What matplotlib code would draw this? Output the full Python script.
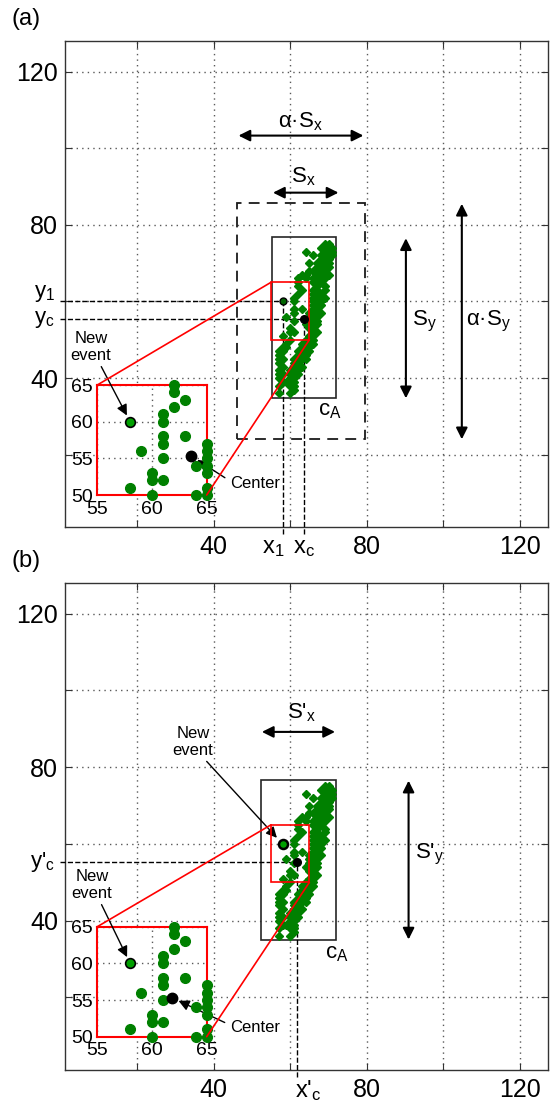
import matplotlib
matplotlib.use('Agg')
import matplotlib.pyplot as plt
from matplotlib.patches import Rectangle, ConnectionPatch

plt.rcParams['font.family'] = ['Liberation Sans', 'DejaVu Sans']
plt.rcParams['mathtext.fontset'] = 'custom'
plt.rcParams['mathtext.rm'] = 'Liberation Sans'
plt.rcParams['mathtext.default'] = 'regular'

# ---------------- data ----------------
cluster_x = [
    # inset region (55..65 x 50..65)
    62, 62, 63, 62, 61, 61, 63, 61, 61, 59, 61, 60, 60, 61, 58, 60, 64, 65, 65, 65, 65, 65, 65, 65, 64,
    # right branch, upper part
    69, 70, 68, 69, 70, 71, 69, 71, 68, 70, 71, 68, 69, 70, 67, 68, 70, 67, 69, 70,
    66, 68, 69, 67, 68, 70, 66, 67, 69, 66, 68, 67, 69,
    66, 67, 69, 66, 68, 66, 67, 69, 66, 67, 68, 66, 68, 66, 67, 66, 68,
    66, 67, 66, 67, 66, 67, 66, 66, 67, 66, 66,
    # right branch, lower part
    63, 64, 66, 63, 65, 62, 64, 65, 62, 63, 64, 61, 63, 64, 61, 62, 61, 63,
    60, 62, 60, 61, 62, 60, 61, 59, 61, 60, 61, 61, 60,
    # left branch, upper part
    64, 66, 65, 65, 63, 64, 62, 64,
    # left branch, lower part
    59, 58, 59, 57, 58, 57, 57, 58, 57, 58, 57, 57, 58, 57, 58, 57, 57,
]
cluster_y = [
    65, 64, 63, 62, 61, 60, 58, 58, 57, 56, 55, 53, 52, 52, 51, 50, 50, 57, 56, 55, 54, 53, 51, 50, 54,
    75, 75, 74, 74, 74, 74, 73, 73, 72, 72, 72, 71, 71, 71, 70, 70, 70, 69, 69, 69,
    68, 68, 68, 67, 67, 67, 66, 66, 66, 65, 65, 64, 64,
    63, 63, 63, 62, 62, 61, 61, 61, 60, 60, 60, 59, 59, 58, 58, 57, 57,
    56, 56, 55, 55, 54, 54, 53, 52, 52, 51, 50,
    49, 49, 49, 48, 48, 47, 47, 47, 46, 46, 46, 45, 45, 45, 44, 44, 43, 43,
    42, 42, 41, 41, 41, 40, 40, 39, 39, 38, 38, 37, 36,
    73, 72, 70, 68, 67, 67, 66, 66,
    49, 48, 48, 47, 47, 46, 45, 45, 44, 43, 42, 41, 41, 40, 39, 38, 36,
]
new_event = (58, 60)
center_a = (63.6, 55.3)
center_b = (61.85, 55.3)

zoom_x = (55, 65)
zoom_y = (50, 65)

cA_a = (55.2, 34.7, 72.0, 76.7)     # x0, y0, x1, y1
alpha_box = (46.2, 24.0, 79.4, 85.7)
cA_b = (52.3, 35.1, 72.0, 76.7)

tick_vals = [20, 40, 60, 80, 100, 120]
tick_labels = ['', '40', '', '80', '', '120']
inset_xticks = [55, 60, 65]
inset_yticks = [50, 55, 60, 65]

XLIM = (1.2, 127.3)
YLIM = (1.1, 128.0)

# ---------------- figure ----------------
W, H = 551, 1104
fig = plt.figure(figsize=(W / 100, H / 100), dpi=100)


def rect(l, t, r, b):
    return [l / W, 1 - b / H, (r - l) / W, (b - t) / H]


GREEN = '#008000'
dotted = (0, (1, 3))


def style_main(ax):
    ax.set_xlim(*XLIM)
    ax.set_ylim(*YLIM)
    ax.set_xticks(tick_vals)
    ax.set_xticklabels(tick_labels)
    ax.set_yticks(tick_vals)
    ax.set_yticklabels(tick_labels)
    ax.grid(True, linestyle=dotted, color='0.35', lw=1.0)
    ax.tick_params(direction='in', length=5, top=True, right=True,
                   labelsize=18, color='0.2')
    ax.tick_params(axis='x', pad=6)
    ax.tick_params(axis='y', pad=5)
    for s in ax.spines.values():
        s.set_color('0.2')
        s.set_linewidth(1.0)
    ax.set_axisbelow(True)


def dbl_arrow(ax, p0, p1):
    ax.annotate('', xy=p1, xytext=p0,
                arrowprops=dict(arrowstyle='<|-|>', color='k', lw=1.5,
                                mutation_scale=17, shrinkA=0, shrinkB=0))


def add_box(ax, b, ls='-', color='0.15', lw=1.2):
    ax.add_patch(Rectangle((b[0], b[1]), b[2] - b[0], b[3] - b[1], fill=False,
                           ls=ls, ec=color, lw=lw, zorder=3))


def make_inset(pos, center, text_new, text_center):
    axi = fig.add_axes(rect(*pos))
    axi.set_xlim(*zoom_x)
    axi.set_ylim(*zoom_y)
    axi.set_xticks(inset_xticks)
    axi.set_yticks(inset_yticks)
    axi.grid(True, linestyle=dotted, color='0.35', lw=1.0)
    axi.set_axisbelow(True)
    axi.tick_params(length=0, labelsize=14)
    axi.tick_params(axis='x', pad=4)
    axi.tick_params(axis='y', pad=3)
    for s in axi.spines.values():
        s.set_color('red')
        s.set_linewidth(1.5)
    px = [x for x, y in zip(cluster_x, cluster_y)
          if zoom_x[0] <= x <= zoom_x[1] and zoom_y[0] <= y <= zoom_y[1]]
    py = [y for x, y in zip(cluster_x, cluster_y)
          if zoom_x[0] <= x <= zoom_x[1] and zoom_y[0] <= y <= zoom_y[1]]
    axi.plot(px, py, 'o', color=GREEN, ms=7, mec=GREEN, clip_on=False, zorder=4)
    axi.plot(*new_event, 'o', mfc='#00a000', mec='k', mew=1.2, ms=7,
             clip_on=False, zorder=5)
    axi.plot(*center, 'o', color='k', ms=7.5, clip_on=False, zorder=5)
    axi.annotate('New\nevent', xy=new_event, xytext=text_new,
                 textcoords='figure pixels', ha='center', va='center',
                 fontsize=12, linespacing=1.1,
                 arrowprops=dict(arrowstyle='-|>', color='k', lw=1.0,
                                 mutation_scale=16, shrinkA=1, shrinkB=5))
    axi.annotate('Center', xy=center, xytext=text_center,
                 textcoords='figure pixels', ha='left', va='center',
                 fontsize=12,
                 arrowprops=dict(arrowstyle='-|>', color='k', lw=1.0,
                                 mutation_scale=16, shrinkA=2, shrinkB=5,
                                 relpos=(0.0, 0.7)))
    return axi


def connect(ax, axi):
    for pt in [(zoom_x[0], zoom_y[1]), (zoom_x[1], zoom_y[0])]:
        cp = ConnectionPatch(xyA=pt, coordsA=axi.transData, xyB=pt,
                             coordsB=ax.transData, color='red', lw=1.2,
                             zorder=6)
        fig.add_artist(cp)


# ================= panel (a) =================
ax = fig.add_axes(rect(65, 41, 548, 527))
style_main(ax)
ax.plot(cluster_x, cluster_y, 'D', color=GREEN, ms=3.6, mec=GREEN, zorder=4)
add_box(ax, cA_a)
add_box(ax, alpha_box, ls=(0, (6, 4)), color='0.1', lw=1.3)
ax.add_patch(Rectangle((zoom_x[0], zoom_y[0]), zoom_x[1] - zoom_x[0],
                       zoom_y[1] - zoom_y[0], fill=False, ec='red', lw=1.2, zorder=5))
# dashed guides
ax.plot([0, new_event[0]], [new_event[1]] * 2, ls='--', color='k', lw=1, clip_on=False, zorder=3)
ax.plot([0, center_a[0]], [center_a[1]] * 2, ls='--', color='k', lw=1, clip_on=False, zorder=3)
ax.plot([new_event[0]] * 2, [-0.6, new_event[1]], ls='--', color='k', lw=1, clip_on=False, zorder=3)
ax.plot([center_a[0]] * 2, [-0.6, center_a[1]], ls='--', color='k', lw=1, clip_on=False, zorder=3)
ax.plot(*new_event, 'o', mfc='#006400', mec='k', ms=5, zorder=6)
ax.plot(*center_a, 'o', color='k', ms=5.5, zorder=6)
# arrows & labels
dbl_arrow(ax, (46.5, 103.3), (79.1, 103.3))
dbl_arrow(ax, (55.5, 88.4), (72.6, 88.4))
dbl_arrow(ax, (90.2, 34.7), (90.2, 76.5))
dbl_arrow(ax, (104.8, 24.0), (104.8, 85.5))
ax.text(62.6, 107.0, 'α·S$_x$', fontsize=16, ha='center', va='center')
ax.text(63.5, 92.5, 'S$_x$', fontsize=16, ha='center', va='center')
ax.text(95.0, 54.7, 'S$_y$', fontsize=16, ha='center', va='center')
ax.text(111.9, 54.7, 'α·S$_y$', fontsize=16, ha='center', va='center')
ax.text(70.4, 31.6, 'c$_A$', fontsize=16, ha='center', va='center')
ax.text(-1.5, 62.0, 'y$_1$', fontsize=16, ha='right', va='center', clip_on=False)
ax.text(-1.5, center_a[1], 'y$_c$', fontsize=16, ha='right', va='center', clip_on=False)
ax.text(55.6, -4.4, 'x$_1$', fontsize=17, ha='center', va='center', clip_on=False)
ax.text(63.6, -4.4, 'x$_c$', fontsize=17, ha='center', va='center', clip_on=False)
fig.text(26 / W, 1 - 19 / H, '(a)', fontsize=17, ha='center', va='center')

axi = make_inset((97.3, 385, 206.7, 495), center_a,
                 (91, H - 347), (230, H - 484))
connect(ax, axi)

# ================= panel (b) =================
ax2 = fig.add_axes(rect(65, 583, 548, 1070))
style_main(ax2)
ax2.plot(cluster_x, cluster_y, 'D', color=GREEN, ms=3.6, mec=GREEN, zorder=4)
add_box(ax2, cA_b)
ax2.add_patch(Rectangle((zoom_x[0], zoom_y[0]), zoom_x[1] - zoom_x[0],
                        zoom_y[1] - zoom_y[0], fill=False, ec='red', lw=1.2, zorder=5))
ax2.plot([0, center_b[0]], [center_b[1]] * 2, ls='--', color='k', lw=1, clip_on=False, zorder=3)
ax2.plot([center_b[0]] * 2, [-0.6, center_b[1]], ls='--', color='k', lw=1, clip_on=False, zorder=3)
ax2.plot(*new_event, 'o', mfc='#00a000', mec='k', mew=1.8, ms=6.5, zorder=6)
ax2.plot(*center_b, 'o', color='k', ms=5.5, zorder=6)
dbl_arrow(ax2, (52.6, 89.2), (71.7, 89.2))
dbl_arrow(ax2, (90.9, 35.1), (90.9, 76.5))
ax2.text(63.0, 94.3, "S'$_x$", fontsize=16, ha='center', va='center')
ax2.text(96.4, 57.2, "S'$_y$", fontsize=16, ha='center', va='center')
ax2.text(72.1, 31.4, 'c$_A$', fontsize=16, ha='center', va='center')
ax2.text(-1.5, center_b[1], "y'$_c$", fontsize=16, ha='right', va='center', clip_on=False)
ax2.text(64.7, -4.2, "x'$_c$", fontsize=17, ha='center', va='center', clip_on=False)
ax2.annotate('New\nevent', xy=new_event, xytext=(193, H - 742),
             textcoords='figure pixels', ha='center', va='center',
             fontsize=12, linespacing=1.1,
             arrowprops=dict(arrowstyle='-|>', color='k', lw=1.0,
                             mutation_scale=16, shrinkA=1, shrinkB=6,
                             relpos=(0.75, 0.0)))
fig.text(26 / W, 1 - 561 / H, '(b)', fontsize=17, ha='center', va='center')

axi2 = make_inset((97.3, 926.7, 206.7, 1036.7), center_b,
                  (92, H - 885), (230, H - 1028))
connect(ax2, axi2)

fig.savefig('out.png', dpi=100)
